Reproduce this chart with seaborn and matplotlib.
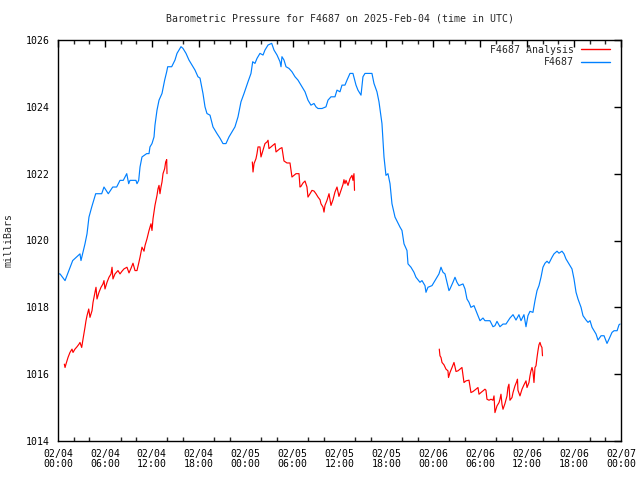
import numpy as np
import pandas as pd
import matplotlib
matplotlib.use("Agg")
import matplotlib.pyplot as plt
import matplotlib.dates as mdates
import seaborn as sns

# ---------------- data (hours since 2025-02-04 00:00 UTC, pressure in mb) ----------------
obs_hours = [0.0, 0.26, 0.9, 1.88, 2.81, 2.94, 3.45, 3.71, 3.96, 4.31, 4.82, 5.59, 5.88, 6.43, 7.0,
             7.5, 7.93, 8.35, 8.79, 9.04, 9.21, 9.97, 10.1, 10.32, 10.49, 10.74, 11.34, 11.64, 11.76,
             12.02, 12.28, 12.4, 12.66, 12.92, 13.3, 13.64, 13.9, 14.03, 14.54, 14.96, 15.22, 15.73,
             15.98, 16.37, 16.75, 17.14, 17.52, 17.9, 18.16, 18.54, 18.8, 19.05, 19.44, 19.82, 20.33,
             20.72, 21.1, 21.48, 21.87, 22.25, 22.63, 23.02, 23.4, 23.79, 24.3, 24.68, 24.9, 25.19,
             25.45, 25.83, 26.22, 26.47, 26.86, 27.33, 27.62, 28.01, 28.39, 28.52, 28.64, 28.9, 29.16,
             29.54, 29.92, 30.31, 30.69, 31.2, 31.59, 31.97, 32.35, 32.74, 32.99, 33.25, 33.76, 34.27,
             34.53, 34.91, 35.42, 35.68, 36.06, 36.32, 36.7, 36.96, 37.34, 37.72, 38.11, 38.36, 38.75,
             39.0, 39.26, 40.15, 40.41, 40.79, 41.05, 41.43, 41.69, 41.94, 42.2, 42.46, 42.71, 43.1,
             43.74, 43.99, 44.25, 44.63, 44.76, 45.14, 45.52, 45.78, 46.29, 46.55, 46.93, 47.06, 47.31,
             47.83, 48.34, 48.72, 48.98, 49.23, 49.49, 49.75, 50.0, 50.13, 50.51, 50.77, 51.02, 51.28,
             51.79, 52.05, 52.3, 52.56, 52.81, 53.2, 53.45, 53.71, 53.97, 54.35, 54.6, 55.24, 55.63,
             55.88, 56.14, 56.52, 56.91, 57.29, 57.8, 58.19, 58.57, 58.95, 59.21, 59.59, 59.85, 60.1,
             60.36, 60.74, 61.0, 61.26, 61.51, 61.77, 62.02, 62.28, 62.54, 62.79, 63.18, 63.43, 63.82,
             64.07, 64.45, 64.71, 64.96, 65.35, 65.73, 65.99, 66.25, 66.5, 66.89, 67.14, 67.53, 67.78,
             68.04, 68.3, 68.55, 68.81, 69.06, 69.45, 69.83, 70.21, 70.47, 70.85, 71.11, 71.5, 71.75,
             71.88]
obs_values = [1019.0, 1019.0, 1018.8, 1019.4, 1019.6, 1019.4, 1019.9, 1020.2, 1020.7, 1021.0, 1021.4,
              1021.4, 1021.6, 1021.4, 1021.6, 1021.6, 1021.8, 1021.8, 1022.0, 1021.7, 1021.8, 1021.8,
              1021.7, 1021.8, 1022.2, 1022.5, 1022.6, 1022.6, 1022.8, 1022.9, 1023.1, 1023.45, 1023.9,
              1024.2, 1024.4, 1024.8, 1025.05, 1025.2, 1025.2, 1025.4, 1025.6, 1025.8, 1025.75, 1025.6,
              1025.4, 1025.25, 1025.1, 1024.9, 1024.86, 1024.4, 1024.0, 1023.8, 1023.75, 1023.4, 1023.2,
              1023.06, 1022.9, 1022.9, 1023.1, 1023.25, 1023.4, 1023.7, 1024.15, 1024.4, 1024.75, 1025.0,
              1025.35, 1025.3, 1025.45, 1025.6, 1025.55, 1025.7, 1025.85, 1025.9, 1025.7, 1025.55,
              1025.35, 1025.2, 1025.5, 1025.4, 1025.2, 1025.15, 1025.05, 1024.9, 1024.8, 1024.6, 1024.45,
              1024.2, 1024.05, 1024.1, 1024.0, 1023.95, 1023.95, 1024.0, 1024.2, 1024.3, 1024.3, 1024.5,
              1024.45, 1024.65, 1024.65, 1024.8, 1025.0, 1025.0, 1024.65, 1024.5, 1024.35, 1024.9,
              1025.0, 1025.0, 1024.7, 1024.45, 1024.15, 1023.5, 1022.5, 1021.95, 1022.0, 1021.7, 1021.1,
              1020.7, 1020.4, 1020.3, 1019.9, 1019.7, 1019.3, 1019.2, 1019.05, 1018.9, 1018.75, 1018.8,
              1018.65, 1018.45, 1018.6, 1018.65, 1018.85, 1019.0, 1019.2, 1019.05, 1019.0, 1018.75,
              1018.5, 1018.55, 1018.75, 1018.9, 1018.75, 1018.65, 1018.7, 1018.55, 1018.25, 1018.15,
              1018.0, 1018.05, 1017.9, 1017.75, 1017.6, 1017.68, 1017.6, 1017.6, 1017.42, 1017.45,
              1017.58, 1017.42, 1017.5, 1017.5, 1017.68, 1017.78, 1017.62, 1017.78, 1017.6, 1017.78,
              1017.42, 1017.75, 1017.88, 1017.85, 1018.2, 1018.5, 1018.65, 1018.9, 1019.2, 1019.32,
              1019.38, 1019.32, 1019.5, 1019.6, 1019.68, 1019.62, 1019.68, 1019.6, 1019.45, 1019.3,
              1019.15, 1018.85, 1018.45, 1018.25, 1018.0, 1017.75, 1017.62, 1017.55, 1017.6, 1017.4,
              1017.3, 1017.2, 1017.02, 1017.15, 1017.15, 1016.92, 1017.05, 1017.25, 1017.3, 1017.3,
              1017.48, 1017.5]

ana1_hours = [0.81, 0.9, 1.02, 1.28, 1.53, 1.79, 1.92, 2.17, 2.43, 2.69, 2.81, 3.03, 3.2, 3.45, 3.58,
              3.71, 3.93, 4.09, 4.35, 4.48, 4.73, 4.86, 4.99, 5.24, 5.5, 5.75, 5.88, 6.01, 6.27, 6.52,
              6.78, 6.91, 7.03, 7.29, 7.67, 7.93, 8.18, 8.44, 8.82, 9.08, 9.34, 9.59, 9.85, 10.1, 10.32,
              10.49, 10.74, 11.0, 11.13, 11.38, 11.64, 11.89, 12.02, 12.15, 12.4, 12.66, 12.79, 12.92,
              13.04, 13.17, 13.3, 13.43, 13.64, 13.77, 13.9, 13.94]
ana1_values = [1016.3, 1016.2, 1016.3, 1016.5, 1016.65, 1016.75, 1016.65, 1016.75, 1016.82, 1016.9,
               1016.95, 1016.8, 1017.05, 1017.4, 1017.6, 1017.75, 1017.95, 1017.7, 1017.9, 1018.15,
               1018.45, 1018.6, 1018.25, 1018.45, 1018.6, 1018.7, 1018.8, 1018.55, 1018.75, 1018.9,
               1019.0, 1019.2, 1018.85, 1019.0, 1019.1, 1019.0, 1019.08, 1019.15, 1019.2, 1019.03,
               1019.17, 1019.32, 1019.1, 1019.1, 1019.32, 1019.5, 1019.8, 1019.68, 1019.85, 1020.05,
               1020.3, 1020.5, 1020.3, 1020.65, 1021.05, 1021.35, 1021.55, 1021.65, 1021.4, 1021.6,
               1021.75, 1022.0, 1022.15, 1022.35, 1022.42, 1022.0]

ana2_hours = [24.85, 24.94, 25.07, 25.32, 25.45, 25.58, 25.83, 25.96, 26.09, 26.34, 26.47, 26.73, 26.86,
              26.98, 27.24, 27.49, 27.75, 27.88, 28.13, 28.39, 28.64, 28.9, 29.28, 29.67, 29.92, 30.18,
              30.44, 30.82, 30.95, 31.07, 31.33, 31.59, 31.84, 31.97, 32.23, 32.48, 32.74, 32.99, 33.25,
              33.51, 33.63, 33.89, 34.02, 34.14, 34.4, 34.66, 34.91, 35.17, 35.42, 35.68, 35.93, 36.19,
              36.45, 36.57, 36.7, 36.83, 37.09, 37.34, 37.6, 37.72, 37.85, 37.92]
ana2_values = [1022.35, 1022.05, 1022.3, 1022.45, 1022.6, 1022.8, 1022.8, 1022.5, 1022.6, 1022.8,
               1022.9, 1022.95, 1023.0, 1022.75, 1022.8, 1022.85, 1022.9, 1022.65, 1022.7, 1022.75,
               1022.78, 1022.38, 1022.32, 1022.32, 1021.9, 1021.95, 1022.0, 1022.0, 1021.6, 1021.62,
               1021.72, 1021.78, 1021.6, 1021.3, 1021.4, 1021.5, 1021.48, 1021.4, 1021.3, 1021.22,
               1021.1, 1021.0, 1020.85, 1021.05, 1021.2, 1021.4, 1021.05, 1021.22, 1021.45, 1021.6,
               1021.32, 1021.5, 1021.68, 1021.82, 1021.7, 1021.8, 1021.65, 1021.85, 1021.95, 1021.8,
               1022.0, 1021.5]

ana3_hours = [48.76, 48.85, 48.98, 49.11, 49.36, 49.62, 49.87, 49.94, 50.13, 50.39, 50.64, 50.77, 50.9,
              51.15, 51.41, 51.66, 51.92, 52.18, 52.56, 52.81, 53.07, 53.45, 53.71, 53.84, 54.09, 54.35,
              54.6, 54.73, 54.86, 55.12, 55.37, 55.63, 55.76, 55.88, 56.14, 56.4, 56.52, 56.65, 56.78,
              56.91, 57.16, 57.42, 57.54, 57.67, 57.8, 58.06, 58.19, 58.44, 58.7, 58.76, 58.82, 59.08,
              59.34, 59.59, 59.85, 59.98, 60.23, 60.36, 60.49, 60.62, 60.74, 60.87, 61.0, 61.13, 61.26,
              61.38, 61.51, 61.64, 61.77, 61.89, 61.96]
ana3_values = [1016.75, 1016.55, 1016.5, 1016.35, 1016.28, 1016.15, 1016.1, 1015.9, 1016.05, 1016.2,
               1016.35, 1016.22, 1016.08, 1016.1, 1016.15, 1016.2, 1015.75, 1015.8, 1015.82, 1015.45,
               1015.48, 1015.55, 1015.6, 1015.4, 1015.45, 1015.5, 1015.55, 1015.52, 1015.25, 1015.22,
               1015.25, 1015.22, 1015.35, 1014.85, 1015.05, 1015.15, 1015.25, 1015.4, 1015.1, 1014.95,
               1015.12, 1015.35, 1015.6, 1015.7, 1015.22, 1015.3, 1015.45, 1015.65, 1015.8, 1015.85,
               1015.52, 1015.35, 1015.55, 1015.68, 1015.8, 1015.6, 1015.75, 1015.95, 1016.1, 1016.2,
               1016.08, 1015.75, 1016.2, 1016.25, 1016.5, 1016.7, 1016.88, 1016.95, 1016.85, 1016.8,
               1016.55]

series_names = ["F4687 Analysis", "F4687"]
series_colors = ["#ff0000", "#0080ff"]
start_time = pd.Timestamp("2025-02-04 00:00")
end_time = pd.Timestamp("2025-02-07 00:00")
y_ticks = [1014, 1016, 1018, 1020, 1022, 1024, 1026]

# ---------------- build long table ----------------
frames = []
for seg, (h, v) in enumerate([(ana1_hours, ana1_values), (ana2_hours, ana2_values),
                              (ana3_hours, ana3_values)]):
    frames.append(pd.DataFrame({"time": start_time + pd.to_timedelta(h, unit="h"),
                                "pressure": v, "series": series_names[0], "seg": seg}))
frames.append(pd.DataFrame({"time": start_time + pd.to_timedelta(obs_hours, unit="h"),
                            "pressure": obs_values, "series": series_names[1], "seg": 10}))
df = pd.concat(frames, ignore_index=True)

# ---------------- plot ----------------
sns.set_theme(style="white")
font = "DejaVu Sans Mono"
plt.rcParams["font.family"] = [font, "DejaVu Sans"]
FS = 7.1
plt.rcParams["font.size"] = FS

fig = plt.figure(figsize=(6.4, 4.8), dpi=100)
ax = fig.add_axes([58 / 640, 1 - 441 / 480, 563 / 640, 401 / 480])

sns.lineplot(data=df, x="time", y="pressure", hue="series", units="seg", estimator=None,
             hue_order=series_names, palette=dict(zip(series_names, series_colors)),
             linewidth=0.85, ax=ax, sort=False)

ax.set_xlim(start_time, end_time)
ax.set_ylim(y_ticks[0], y_ticks[-1])
ax.set_yticks(y_ticks)
ax.xaxis.set_major_locator(mdates.HourLocator(byhour=[0, 6, 12, 18]))
ax.xaxis.set_minor_locator(mdates.HourLocator(byhour=range(0, 24, 2)))
ax.xaxis.set_major_formatter(mdates.DateFormatter("%m/%d\n%H:%M"))

ax.tick_params(axis="both", which="major", direction="in", length=5, width=1,
               top=True, right=True, labelsize=FS, colors="black", pad=6)
ax.tick_params(axis="x", which="minor", direction="in", length=2.8, width=1,
               top=True, bottom=True)
ax.tick_params(axis="x", which="major", pad=6)
for s in ax.spines.values():
    s.set_visible(True)
    s.set_color("black")
    s.set_linewidth(1.0)

ax.set_xlabel("")
ax.set_ylabel("milliBars", fontsize=FS, labelpad=9)
ax.set_title("Barometric Pressure for F4687 on 2025-Feb-04 (time in UTC)", fontsize=FS, pad=13)

leg = ax.legend(loc="upper right", bbox_to_anchor=(1 - 6 / 563, 1.0), frameon=False,
                markerfirst=False, fontsize=FS, handlelength=2.95, handletextpad=0.7,
                labelspacing=0.25, borderaxespad=0.2, borderpad=0.3)
for line in leg.get_lines():
    line.set_linewidth(1.0)

fig.canvas.draw()
for t in ax.get_xticklabels():
    t.set_linespacing(1.0)

fig.savefig("out.png", dpi=100)
